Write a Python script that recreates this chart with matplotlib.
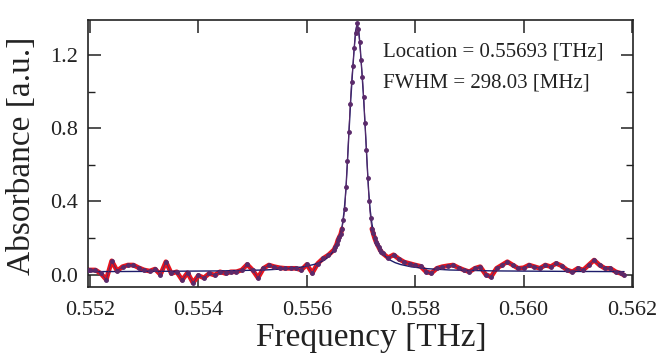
import numpy as np
import matplotlib
matplotlib.use("Agg")
import matplotlib.pyplot as plt
from matplotlib.ticker import MultipleLocator

plt.rcParams['font.family'] = ['Liberation Serif', 'DejaVu Serif']

# ---- measured data (frequency in THz, absorbance in a.u.) ----
freq_left = [0.55197] + list(np.round(np.arange(0.5520, 0.55645, 0.0001), 6))
abs_left = [0.025,
            0.025, 0.025, 0.006, -0.028, 0.075, 0.020, 0.043, 0.052, 0.052, 0.037,
            0.025, 0.019, 0.030, 0.000, 0.070, 0.006, 0.015, -0.030, 0.010, -0.045,
            -0.005, -0.018, 0.006, -0.003, 0.015, 0.006, 0.015, 0.015, 0.025, 0.055,
            0.025, -0.018, 0.034, 0.052, 0.043, 0.037, 0.034, 0.034, 0.034, 0.025,
            0.055, 0.008, 0.060, 0.088, 0.107]

freq_peak = list(np.round(np.arange(0.55650, 0.557401, 0.000025), 6))
abs_peak = [0.135, 0.150, 0.165, 0.190, 0.205, 0.220, 0.250, 0.300, 0.360, 0.480,
            0.620, 0.780, 0.930, 1.050, 1.140, 1.240, 1.320, 1.372, 1.340, 1.270,
            1.170, 1.080, 0.970, 0.830, 0.680, 0.530, 0.400, 0.310, 0.250, 0.225,
            0.200, 0.180, 0.165, 0.150, 0.135, 0.125, 0.116]

freq_right = list(np.round(np.arange(0.5575, 0.56185, 0.0001), 6)) + [0.56185]
abs_right = [0.092, 0.108, 0.085, 0.068, 0.060, 0.052, 0.045, 0.015, 0.008, 0.034,
             0.043, 0.048, 0.052, 0.037, 0.025, 0.015, 0.034, 0.043, 0.000, -0.012,
             0.034, 0.052, 0.070, 0.052, 0.034, 0.037, 0.052, 0.043, 0.034, 0.052,
             0.043, 0.061, 0.048, 0.025, 0.015, 0.034, 0.025, 0.052, 0.079, 0.052,
             0.034, 0.034, 0.015, 0.006, -0.003]

freq = freq_left + freq_peak + freq_right
absorb = abs_left + abs_peak + abs_right

# ---- fitted curve ----
fit_freq = [0.55197, 0.55293, 0.55443, 0.55523, 0.55563, 0.55593, 0.55613, 0.55623,
            0.55633, 0.55643, 0.55648, 0.55653, 0.55658, 0.55663, 0.55666, 0.55669,
            0.55672, 0.55675, 0.55678, 0.55681, 0.55684, 0.55687, 0.5569, 0.55693,
            0.55696, 0.55699, 0.55702, 0.55705, 0.55708, 0.55711, 0.55714, 0.55717,
            0.5572, 0.55723, 0.55728, 0.55733, 0.55738, 0.55743, 0.55753, 0.55763,
            0.55773, 0.55793, 0.55823, 0.55863, 0.55943, 0.56093, 0.56185]
fit_abs = [0.016, 0.017, 0.020, 0.025, 0.032, 0.042, 0.055, 0.065,
           0.080, 0.105, 0.125, 0.150, 0.180, 0.230, 0.280, 0.350,
           0.460, 0.620, 0.790, 0.950, 1.090, 1.220, 1.330, 1.372,
           1.330, 1.220, 1.090, 0.950, 0.790, 0.620, 0.460, 0.350,
           0.280, 0.230, 0.180, 0.150, 0.125, 0.105, 0.080, 0.065,
           0.055, 0.042, 0.032, 0.025, 0.020, 0.017, 0.016]

x_ticks = [0.552, 0.554, 0.556, 0.558, 0.560, 0.562]
x_ticklabels = ["0.552", "0.554", "0.556", "0.558", "0.560", "0.562"]
y_ticks = [0.0, 0.4, 0.8, 1.2]
y_ticklabels = ["0.0", "0.4", "0.8", "1.2"]
annot_lines = ["Location = 0.55693 [THz]", "FWHM = 298.03 [MHz]"]

fig = plt.figure(figsize=(6.62, 3.53), dpi=100)
ax = fig.add_axes([88/662, (353-287)/353, 545/662, 267/353])

# red trace only visible outside the steep part of the peak
absorb_arr = np.array(absorb)
red_y = np.where(absorb_arr <= 0.26, absorb_arr, np.nan)
ax.plot(freq, red_y, color='#e8141e', lw=3.4, solid_capstyle='round',
        solid_joinstyle='round', zorder=2)
ax.plot(fit_freq, fit_abs, color='#1c1c6a', lw=1.0, zorder=3)
ax.plot(freq, absorb, color='#5a2a6a', lw=0.7, marker='o', ms=2.5,
        mec='#5a2a6a', mfc='#5a2a6a', zorder=4)

ax.set_xlim(0.551963, 0.562018)
ax.set_ylim(-0.068, 1.391)
ax.set_xticks(x_ticks)
ax.set_xticklabels(x_ticklabels)
ax.set_yticks(y_ticks)
ax.set_yticklabels(y_ticklabels)
ax.yaxis.set_minor_locator(MultipleLocator(0.2))

ax.tick_params(axis='both', which='major', direction='in', top=True, right=True,
               length=9, width=1.1, labelsize=16, colors='#222222', pad=7)
ax.tick_params(axis='x', which='major', pad=10)
ax.tick_params(axis='y', which='minor', direction='in', left=True, right=True,
               length=5, width=1.0, colors='#222222')
for s in ax.spines.values():
    s.set_linewidth(1.2)
    s.set_color('#222222')

ax.set_xlabel("Frequency [THz]", fontsize=24, color='#222222')
ax.set_ylabel("Absorbance [a.u.]", fontsize=24, color='#222222')
ax.xaxis.set_label_coords(0.52, -0.132)
ax.yaxis.set_label_coords(-0.094, 0.49)

ax.text(0.541, 0.881, annot_lines[0], transform=ax.transAxes, fontsize=15,
        va='center', ha='left', color='#222222')
ax.text(0.541, 0.764, annot_lines[1], transform=ax.transAxes, fontsize=15,
        va='center', ha='left', color='#222222')

fig.savefig("out.png", dpi=100, facecolor='white')
